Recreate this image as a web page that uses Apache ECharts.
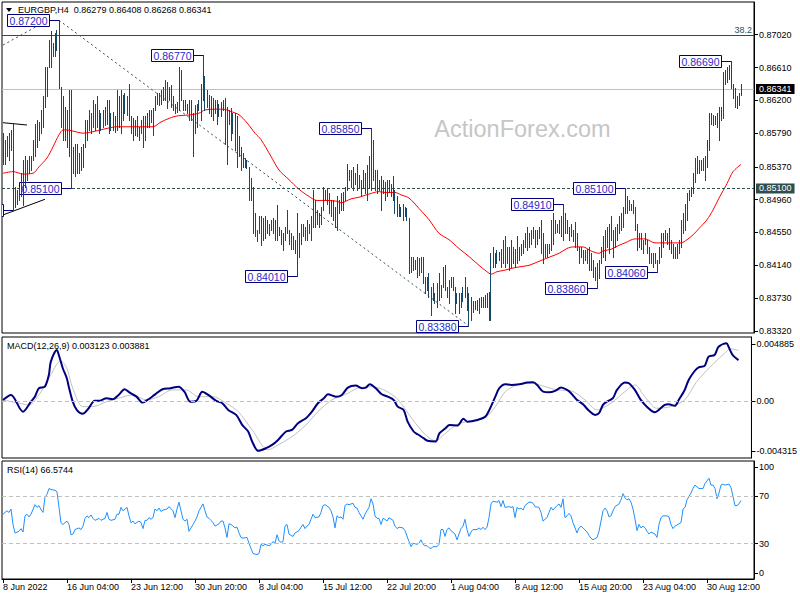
<!DOCTYPE html>
<html><head><meta charset="utf-8">
<script src="https://cdn.jsdelivr.net/npm/echarts@6/dist/echarts.min.js"></script>
<style>html,body{margin:0;padding:0;background:#fff}#c{width:800px;height:600px}</style>
</head><body><div id="c"></div>
<script>
const symbolTitle = 'EURGBP,H4';
const lastOHLC = [0.86279, 0.86408, 0.86268, 0.86341];
const timeLabels = ['8 Jun 2022','16 Jun 04:00','23 Jun 12:00','30 Jun 20:00','8 Jul 04:00','15 Jul 12:00','22 Jul 20:00','1 Aug 04:00','8 Aug 12:00','15 Aug 20:00','23 Aug 04:00','30 Aug 12:00'];
const barsPerLabel = 32;
const emptyBarsRight = 6;
const priceTicks = [0.87020,0.86610,0.86200,0.85790,0.85370,0.84960,0.84550,0.84140,0.83730,0.83320];
const priceRange = [0.83295, 0.87428];
const macdRange = [-0.004315, 0.004885];
const macdLast = [0.003123, 0.003881];
const rsiLast = 66.5744;
const rsiLevels = [70, 30];
const fibLevel = 0.87010, fibText = '38.2';
const currentPrice = 0.86341;
const keyLevel = 0.85100;

const barHigh = [
0.8579,0.8570,0.8575,0.8579,0.8583,0.8591,0.8512,0.8508,0.8512,0.8529,
0.8546,0.8550,0.8546,0.8550,0.8550,0.8570,0.8591,0.8595,0.8593,0.8608,
0.8625,0.8662,0.8662,0.8695,0.8706,0.8691,0.8704,0.8708,0.8720,0.8637,
0.8625,0.8612,0.8608,0.8633,0.8633,0.8562,0.8566,0.8566,0.8554,0.8562,
0.8566,0.8595,0.8595,0.8608,0.8604,0.8620,0.8616,0.8625,0.8608,0.8604,
0.8608,0.8612,0.8620,0.8620,0.8604,0.8606,0.8600,0.8633,0.8625,0.8633,
0.8627,0.8629,0.8625,0.8641,0.8600,0.8598,0.8595,0.8600,0.8587,0.8595,
0.8600,0.8600,0.8604,0.8608,0.8608,0.8610,0.8625,0.8629,0.8629,0.8633,
0.8637,0.8645,0.8643,0.8637,0.8639,0.8625,0.8616,0.8618,0.8662,0.8658,
0.8620,0.8620,0.8616,0.8620,0.8620,0.8604,0.8614,0.8616,0.8620,0.8641,
0.8677,0.8650,0.8633,0.8627,0.8625,0.8623,0.8620,0.8620,0.8616,0.8618,
0.8620,0.8623,0.8612,0.8608,0.8610,0.8604,0.8604,0.8600,0.8575,0.8562,
0.8554,0.8548,0.8546,0.8537,0.8523,0.8512,0.8479,0.8458,0.8475,0.8475,
0.8473,0.8475,0.8471,0.8466,0.8471,0.8473,0.8471,0.8489,0.8462,0.8458,
0.8454,0.8462,0.8483,0.8458,0.8454,0.8450,0.8446,0.8479,0.8454,0.8466,
0.8466,0.8462,0.8471,0.8466,0.8475,0.8508,0.8496,0.8483,0.8479,0.8487,
0.8512,0.8508,0.8510,0.8504,0.8496,0.8496,0.8487,0.8500,0.8496,0.8504,
0.8506,0.8512,0.8541,0.8533,0.8533,0.8537,0.8529,0.8541,0.8527,0.8521,
0.8533,0.8529,0.8539,0.8550,0.8585,0.8570,0.8533,0.8533,0.8521,0.8525,
0.8521,0.8518,0.8521,0.8521,0.8516,0.8525,0.8508,0.8500,0.8491,0.8487,
0.8491,0.8487,0.8485,0.8473,0.8425,0.8425,0.8421,0.8425,0.8423,0.8425,
0.8425,0.8400,0.8400,0.8404,0.8387,0.8392,0.8379,0.8392,0.8404,0.8389,
0.8412,0.8414,0.8387,0.8396,0.8400,0.8400,0.8387,0.8379,0.8379,0.8379,
0.8387,0.8400,0.8387,0.8379,0.8375,0.8369,0.8369,0.8371,0.8373,0.8375,
0.8375,0.8377,0.8379,0.8381,0.8429,0.8437,0.8429,0.8433,0.8431,0.8435,
0.8446,0.8450,0.8437,0.8437,0.8446,0.8437,0.8435,0.8450,0.8437,0.8441,
0.8446,0.8454,0.8462,0.8454,0.8458,0.8462,0.8458,0.8458,0.8462,0.8471,
0.8454,0.8441,0.8441,0.8441,0.8471,0.8479,0.8471,0.8466,0.8471,0.8475,
0.8491,0.8479,0.8471,0.8462,0.8466,0.8458,0.8468,0.8454,0.8437,0.8437,
0.8433,0.8433,0.8435,0.8437,0.8429,0.8421,0.8412,0.8417,0.8421,0.8437,
0.8450,0.8458,0.8462,0.8466,0.8475,0.8458,0.8462,0.8466,0.8475,0.8479,
0.8487,0.8510,0.8500,0.8496,0.8491,0.8496,0.8487,0.8466,0.8454,0.8454,
0.8446,0.8454,0.8446,0.8437,0.8429,0.8429,0.8429,0.8421,0.8437,0.8454,
0.8454,0.8458,0.8454,0.8460,0.8446,0.8441,0.8437,0.8441,0.8446,0.8471,
0.8479,0.8491,0.8504,0.8508,0.8512,0.8529,0.8548,0.8550,0.8546,0.8546,
0.8548,0.8550,0.8570,0.8604,0.8604,0.8602,0.8600,0.8604,0.8612,0.8612,
0.8655,0.8658,0.8662,0.8664,0.8669,0.8641,0.8635,0.8625,0.8629,0.86408];
const barLow = [
0.8541,0.8541,0.8550,0.8546,0.8558,0.8483,0.8487,0.8491,0.8496,0.8500,
0.8489,0.8512,0.8521,0.8529,0.8533,0.8546,0.8550,0.8562,0.8570,0.8579,
0.8587,0.8612,0.8625,0.8662,0.8662,0.8675,0.8675,0.8683,0.8635,0.8587,
0.8570,0.8570,0.8562,0.8550,0.8510,0.8529,0.8525,0.8529,0.8529,0.8533,
0.8537,0.8562,0.8570,0.8583,0.8579,0.8587,0.8583,0.8587,0.8579,0.8583,
0.8587,0.8589,0.8591,0.8579,0.8583,0.8583,0.8581,0.8583,0.8587,0.8579,
0.8595,0.8604,0.8602,0.8595,0.8579,0.8570,0.8577,0.8575,0.8570,0.8579,
0.8562,0.8570,0.8587,0.8587,0.8593,0.8577,0.8608,0.8616,0.8614,0.8616,
0.8620,0.8620,0.8610,0.8620,0.8612,0.8608,0.8604,0.8606,0.8608,0.8620,
0.8608,0.8608,0.8604,0.8595,0.8595,0.8550,0.8579,0.8587,0.8608,0.8595,
0.8620,0.8608,0.8612,0.8604,0.8600,0.8595,0.8604,0.8591,0.8600,0.8600,
0.8608,0.8566,0.8541,0.8591,0.8570,0.8579,0.8558,0.8537,0.8550,0.8533,
0.8537,0.8537,0.8535,0.8496,0.8496,0.8454,0.8450,0.8444,0.8454,0.8439,
0.8446,0.8448,0.8454,0.8452,0.8458,0.8454,0.8446,0.8446,0.8452,0.8441,
0.8433,0.8446,0.8454,0.8441,0.8435,0.8435,0.8429,0.8401,0.8425,0.8441,
0.8450,0.8446,0.8446,0.8454,0.8446,0.8462,0.8462,0.8466,0.8462,0.8466,
0.8483,0.8496,0.8491,0.8479,0.8475,0.8471,0.8462,0.8458,0.8479,0.8483,
0.8483,0.8496,0.8508,0.8521,0.8512,0.8508,0.8516,0.8508,0.8512,0.8500,
0.8512,0.8504,0.8496,0.8512,0.8508,0.8521,0.8508,0.8504,0.8508,0.8483,
0.8504,0.8496,0.8500,0.8506,0.8500,0.8496,0.8479,0.8475,0.8475,0.8475,
0.8471,0.8475,0.8471,0.8404,0.8406,0.8408,0.8410,0.8400,0.8402,0.8406,
0.8392,0.8379,0.8383,0.8375,0.8352,0.8371,0.8367,0.8362,0.8371,0.8375,
0.8387,0.8383,0.8375,0.8367,0.8387,0.8383,0.8354,0.8367,0.8354,0.8362,
0.8369,0.8375,0.8358,0.8338,0.8346,0.8356,0.8360,0.8358,0.8354,0.8362,
0.8362,0.8362,0.8362,0.8346,0.8346,0.8412,0.8412,0.8417,0.8421,0.8412,
0.8417,0.8412,0.8417,0.8408,0.8412,0.8417,0.8412,0.8417,0.8421,0.8427,
0.8429,0.8437,0.8433,0.8437,0.8441,0.8448,0.8437,0.8441,0.8448,0.8429,
0.8417,0.8425,0.8425,0.8429,0.8433,0.8441,0.8454,0.8456,0.8454,0.8450,
0.8446,0.8454,0.8454,0.8446,0.8450,0.8444,0.8437,0.8433,0.8417,0.8425,
0.8417,0.8421,0.8417,0.8408,0.8408,0.8400,0.8396,0.8386,0.8398,0.8417,
0.8425,0.8421,0.8437,0.8429,0.8446,0.8425,0.8437,0.8446,0.8454,0.8458,
0.8462,0.8479,0.8479,0.8483,0.8483,0.8479,0.8458,0.8433,0.8437,0.8435,
0.8429,0.8441,0.8429,0.8417,0.8417,0.8412,0.8417,0.8406,0.8417,0.8425,
0.8437,0.8446,0.8441,0.8435,0.8429,0.8423,0.8423,0.8423,0.8429,0.8437,
0.8454,0.8458,0.8471,0.8496,0.8500,0.8504,0.8518,0.8529,0.8529,0.8533,
0.8533,0.8521,0.8537,0.8558,0.8591,0.8589,0.8591,0.8587,0.8570,0.8595,
0.8598,0.8641,0.8643,0.8647,0.8635,0.8623,0.8612,0.8611,0.8614,0.86268];

const maPoints = [[0,0.8529],[5,0.8531],[10,0.8528],[15,0.8529],[18,0.8537],[22,0.8548],[25,0.8562],[28,0.8577],[30,0.8583],[32,0.8583],[36,0.8581],[40,0.8579],[43,0.8580],[47,0.8582],[52,0.8585],[57,0.8587],[63,0.8587],[68,0.8587],[75,0.8587],[79,0.8593],[86,0.8600],[94,0.8602],[98,0.8604],[101,0.8608],[106,0.8609],[110,0.8609],[114,0.8606],[118,0.8602],[122,0.8592],[126,0.8579],[129,0.8571],[134,0.8550],[138,0.8533],[143,0.8521],[148,0.8509],[153,0.8500],[157,0.8495],[162,0.8495],[167,0.8494],[169,0.8492],[174,0.8497],[178,0.8499],[183,0.8503],[188,0.8506],[191,0.8505],[196,0.8505],[199,0.8502],[203,0.8498],[208,0.8485],[213,0.8471],[218,0.8454],[223,0.8446],[228,0.8435],[233,0.8425],[238,0.8414],[242,0.8406],[244,0.8403],[247,0.8406],[251,0.8408],[254,0.8410],[258,0.8412],[263,0.8414],[268,0.8419],[274,0.8425],[278,0.8429],[282,0.8435],[285,0.8437],[290,0.8437],[294,0.8432],[298,0.8429],[300,0.8432],[304,0.8434],[308,0.8439],[311,0.8442],[316,0.8447],[321,0.8447],[326,0.8442],[331,0.8442],[336,0.8442],[339,0.8442],[342,0.8446],[345,0.8452],[348,0.8460],[352,0.8471],[355,0.8483],[358,0.8498],[362,0.8516],[365,0.8531],[369,0.8540]];

const macdMain = [[0,0.0001],[4,0.00048],[10,-0.00079],[14,-0.00003],[16,0.00035],[18,0.00099],[21,0.00111],[23,0.002],[24,0.00301],[27,0.0039],[28,0.00352],[30,0.00251],[32,0.00175],[33,0.00111],[35,-0.00003],[37,-0.00066],[40,-0.00096],[43,-0.00053],[46,0.00003],[48,0.00003],[52,0.00023],[55,0.00015],[58,0.00048],[61,0.00091],[64,0.00061],[67,0.00035],[70,-0.0001],[73,0.00015],[76,0.00048],[80,0.00091],[84,0.00099],[88,0.00111],[91,0.00073],[94,-0.00003],[97,0.00003],[100,0.00073],[103,0.00048],[107,0.00003],[110,-0.00015],[113,-0.00066],[117,-0.00104],[120,-0.0018],[123,-0.0023],[125,-0.00306],[128,-0.00377],[132,-0.00357],[135,-0.00332],[138,-0.00294],[142,-0.0023],[145,-0.00218],[148,-0.00167],[152,-0.00129],[155,-0.00079],[158,-0.00015],[161,0.00023],[163,0.00053],[167,0.00035],[170,0.00048],[173,0.00104],[177,0.00119],[180,0.00099],[182,0.00104],[184,0.00129],[187,0.00099],[190,0.00053],[193,0.00035],[196,0.0001],[198,-0.00041],[201,-0.00066],[203,-0.00155],[206,-0.0023],[208,-0.00251],[211,-0.00281],[213,-0.00301],[217,-0.00306],[219,-0.00243],[222,-0.00205],[224,-0.0018],[228,-0.00185],[231,-0.00134],[233,-0.00155],[238,-0.00142],[242,-0.00117],[244,-0.00066],[247,0.00035],[249,0.00099],[252,0.00129],[255,0.00124],[259,0.00129],[263,0.00142],[266,0.00144],[268,0.00124],[271,0.00073],[274,0.00068],[277,0.00079],[280,0.00104],[283,0.00086],[285,0.00061],[288,0.0001],[291,-0.00023],[294,-0.00073],[297,-0.00104],[299,-0.00091],[301,-0.00028],[303,-0.00003],[306,0.00023],[308,0.00086],[312,0.00142],[314,0.00137],[317,0.00086],[320,0.0001],[323,-0.00041],[327,-0.00084],[329,-0.00066],[332,-0.00028],[334,-0.00023],[337,-0.00035],[339,0.0001],[342,0.00086],[344,0.00162],[347,0.0023],[349,0.00258],[352,0.00269],[354,0.00339],[357,0.00352],[359,0.00415],[363,0.00441],[364,0.00415],[366,0.00352],[369,0.003123]];

const macdSignal = [[0,0.0001],[8,-0.00015],[13,-0.00028],[18,0.00048],[23,0.00175],[29,0.00306],[32,0.00251],[35,0.00099],[40,-0.00041],[45,-0.00041],[52,-0.00003],[58,0.00023],[65,0.00048],[72,0.0001],[78,0.00035],[85,0.00086],[92,0.00086],[98,0.00035],[105,0.00035],[112,-0.00015],[118,-0.00079],[125,-0.00218],[133,-0.0037],[138,-0.00332],[145,-0.00269],[152,-0.0018],[158,-0.00079],[165,0.0001],[172,0.00053],[178,0.00099],[185,0.00111],[192,0.00079],[198,0.00015],[205,-0.00129],[212,-0.00256],[217,-0.00301],[222,-0.00243],[228,-0.00175],[235,-0.00149],[242,-0.00124],[247,-0.00041],[252,0.00073],[258,0.00124],[265,0.00137],[272,0.00111],[278,0.00086],[285,0.00079],[292,0.0001],[298,-0.00066],[305,-0.00015],[312,0.00073],[317,0.00124],[322,0.00035],[328,-0.00053],[335,-0.00041],[342,0.0001],[348,0.00149],[355,0.00263],[362,0.00365],[365,0.00398],[369,0.003881]];

const rsiPoints = [[0,54.9],[1,56.4],[2,57.8],[3,56.4],[4,59.3],[5,46.2],[6,39.0],[8,40.4],[9,42.7],[10,39.8],[11,53.5],[12,54.9],[13,52.6],[14,54.9],[16,63.0],[17,60.7],[18,62.2],[19,58.7],[20,56.4],[21,69.4],[22,71.7],[23,76.7],[24,75.8],[26,75.2],[27,73.8],[28,60.7],[29,47.7],[30,46.2],[32,49.1],[33,46.2],[34,37.5],[35,38.1],[36,41.9],[38,43.3],[39,41.9],[40,44.8],[41,51.4],[42,53.5],[43,52.0],[44,54.3],[45,51.4],[46,49.7],[48,51.4],[49,49.7],[50,50.6],[51,51.4],[52,56.4],[53,50.6],[54,49.7],[56,50.6],[57,54.9],[58,54.9],[59,60.7],[60,57.8],[62,60.7],[63,53.5],[64,47.7],[65,49.1],[66,46.8],[68,49.1],[69,47.7],[70,42.7],[71,49.7],[72,49.7],[73,52.0],[74,50.6],[75,52.0],[76,59.3],[77,57.8],[78,60.1],[79,57.2],[80,58.4],[82,59.3],[83,61.3],[85,57.8],[86,52.0],[87,59.3],[88,65.1],[89,57.8],[90,50.6],[91,49.1],[92,50.6],[93,40.4],[95,46.2],[96,49.1],[97,52.6],[98,57.8],[100,63.6],[101,57.8],[102,52.6],[103,51.4],[104,49.7],[105,47.7],[106,44.8],[108,46.8],[109,49.1],[110,49.1],[111,43.3],[112,35.2],[113,46.8],[114,46.2],[115,44.8],[116,43.3],[117,43.9],[118,39.0],[119,35.2],[120,34.6],[122,35.2],[123,30.3],[124,25.9],[125,21.6],[127,20.7],[128,21.6],[129,29.4],[130,28.2],[131,29.4],[133,28.2],[134,29.4],[135,31.7],[136,30.3],[137,37.5],[138,32.3],[139,31.1],[140,31.7],[141,44.8],[142,46.2],[143,38.1],[144,36.9],[145,36.1],[146,39.0],[148,41.0],[149,43.9],[150,46.2],[151,42.7],[152,44.8],[153,46.2],[154,50.6],[155,54.9],[156,52.0],[158,52.6],[159,56.4],[160,62.2],[161,63.0],[163,60.7],[164,57.8],[165,52.6],[166,43.3],[167,53.5],[168,52.0],[169,52.6],[170,50.6],[171,62.2],[172,63.6],[173,63.0],[175,64.2],[176,60.7],[177,60.1],[178,56.4],[180,50.6],[181,54.9],[182,57.8],[183,60.7],[184,68.0],[185,63.6],[186,53.5],[187,51.4],[188,51.4],[189,46.2],[190,51.4],[191,50.6],[192,49.1],[193,52.0],[195,49.7],[196,44.8],[197,42.7],[198,43.9],[200,43.3],[201,41.0],[203,31.7],[204,27.4],[205,30.3],[207,29.4],[208,30.3],[209,33.2],[210,29.4],[211,28.2],[212,28.2],[213,26.5],[214,25.9],[215,27.4],[217,27.4],[218,29.4],[219,41.9],[220,41.9],[221,36.1],[222,41.9],[223,43.3],[224,41.0],[226,38.1],[227,33.2],[228,38.1],[229,42.7],[230,44.8],[231,50.6],[232,41.9],[233,36.1],[234,39.8],[235,41.9],[237,41.9],[238,43.3],[239,41.9],[240,43.9],[241,41.9],[242,43.9],[243,52.0],[244,63.6],[245,65.9],[247,65.1],[248,66.5],[249,61.3],[250,66.5],[251,60.7],[253,61.3],[254,60.7],[255,61.3],[256,52.0],[257,60.7],[258,59.3],[259,60.1],[260,58.4],[261,62.2],[263,65.1],[264,65.1],[265,64.2],[266,61.3],[268,60.7],[269,56.4],[270,49.1],[271,50.6],[272,52.0],[273,56.4],[274,60.7],[275,58.4],[277,62.2],[278,63.6],[279,60.7],[280,68.0],[281,52.0],[282,53.5],[283,55.5],[284,53.5],[285,47.7],[287,39.0],[288,43.3],[289,44.8],[290,43.3],[292,39.8],[293,36.9],[294,34.6],[295,33.2],[297,35.2],[298,40.4],[299,49.1],[300,57.8],[301,60.1],[302,57.8],[303,52.6],[304,53.5],[305,57.8],[306,61.3],[308,63.6],[309,67.1],[310,72.3],[311,68.8],[312,67.1],[313,68.0],[314,65.1],[315,59.3],[316,50.6],[317,41.0],[318,46.2],[319,43.3],[320,44.8],[321,43.3],[322,40.4],[323,38.1],[324,39.8],[325,38.9],[326,38.1],[327,35.2],[328,46.2],[329,52.0],[330,53.5],[332,53.5],[333,52.6],[334,46.2],[335,42.7],[336,44.8],[338,46.8],[339,47.7],[340,59.3],[341,60.7],[342,67.1],[343,70.0],[344,72.9],[345,76.7],[346,79.6],[347,78.1],[348,76.7],[349,76.7],[350,76.7],[351,81.0],[353,85.4],[354,79.6],[355,79.6],[356,76.7],[357,68.0],[358,72.9],[359,79.6],[360,80.4],[361,79.6],[363,80.4],[364,77.5],[365,70.0],[366,62.2],[367,62.2],[368,63.6],[369,66.5744]];

// swing labels: [bar index, price]
const swingLabels = [[5,0.84830],[28,0.87200],[34,0.85100],[100,0.86770],[147,0.84010],[184,0.85850],[233,0.83380],[280,0.84910],[297,0.83860],[311,0.85100],[327,0.84060],[364,0.86690]];
// drawn lines: [[index, price],[index, price]]
const trendLines = [[[28,0.87200],[233,0.83380]],[[0,0.86890],[22,0.87195]]];
const channelLines = [[[0,0.85921],[12,0.85892]],[[0,0.84769],[21,0.84965]]];

const FONT = '"Liberation Sans", Arial, sans-serif';
const BAR = '#164766';
const chart = echarts.init(document.getElementById('c'), null, {renderer:'svg', width:800, height:600});
const nCat = barHigh.length + emptyBarsRight;
const cats = Array.from({length:nCat}, (_, i) => String(i));
const isLabelIdx = (i) => i % barsPerLabel === 0 && i / barsPerLabel < timeLabels.length;

const grids = [
  {left:2, top:2, width:752, height:331},
  {left:2, top:337, width:752, height:121},
  {left:2, top:461, width:752, height:118}
].map(g => Object.assign(g, {show:true, borderColor:'#000', borderWidth:1, backgroundColor:'rgba(0,0,0,0)'}));

const xAxes = [0,1,2].map(k => ({
  type:'category', gridIndex:k, data:cats, boundaryGap:true,
  axisLine:{show:k===2, lineStyle:{color:'#000'}},
  axisTick:{show:k===2, interval:isLabelIdx, alignWithLabel:true, length:4, lineStyle:{color:'#000'}},
  axisLabel:{show:k===2, interval:isLabelIdx, formatter:(v, i) => timeLabels[i / barsPerLabel] || '',
    align:'left', margin:3, fontSize:9, fontFamily:FONT, color:'#000'},
  splitLine:{show:false}
}));

const lblBase = {fontSize:9, fontFamily:FONT, color:'#000', margin:5};
const macdPad = (macdRange[1]-macdRange[0]) * 7 / 121;
const macdTickPos = [macdRange[1]-macdPad, 0, macdRange[0]+macdPad];
const rsiPad = 100 * 6 / 118;
const rsiTickPos = [100 - rsiPad, 70, 30, rsiPad];

const yAxes = [
  {type:'value', gridIndex:0, position:'right', min:priceRange[0], max:priceRange[1],
   axisLine:{show:true, onZero:false, lineStyle:{color:'#000'}},
   axisTick:{show:true, customValues:priceTicks, length:4, lineStyle:{color:'#000'}},
   axisLabel:Object.assign({customValues:priceTicks, formatter:v => v.toFixed(5)}, lblBase),
   splitLine:{show:false}},
  {type:'value', gridIndex:1, position:'right', min:macdRange[0], max:macdRange[1],
   axisLine:{show:true, onZero:false, lineStyle:{color:'#000'}},
   axisTick:{show:true, customValues:macdTickPos, length:4, lineStyle:{color:'#000'}},
   axisLabel:Object.assign({customValues:macdTickPos, formatter:v => v > 0.0001 ? macdRange[1].toFixed(6) : (v < -0.0001 ? macdRange[0].toFixed(6) : '0.00')}, lblBase),
   splitLine:{show:false}},
  {type:'value', gridIndex:2, position:'right', min:0, max:100,
   axisLine:{show:true, onZero:false, lineStyle:{color:'#000'}},
   axisTick:{show:true, customValues:rsiTickPos, length:4, lineStyle:{color:'#000'}},
   axisLabel:Object.assign({customValues:rsiTickPos, formatter:v => v > 90 ? '100' : (v < 10 ? '0' : String(Math.round(v)))}, lblBase),
   splitLine:{show:false}}
];

const segLine = (seg, style) => [{coord:seg[0], lineStyle:style}, {coord:seg[1]}];

const series = [
  {type:'custom', name:'bars', xAxisIndex:0, yAxisIndex:0, z:6, silent:true,
   data: barHigh.map((h, i) => [i, h, barLow[i]]),
   encode:{x:0, y:[1,2]},
   renderItem:(params, api) => {
     const i = api.value(0);
     const hi = api.coord([i, api.value(1)]);
     const lo = api.coord([i, api.value(2)]);
     const x = Math.floor(hi[0]) + 0.5;
     return {type:'line', shape:{x1:x, y1:Math.round(hi[1]), x2:x, y2:Math.round(lo[1]) + 1},
             style:{stroke:BAR, lineWidth:1}};
   }},
  {type:'line', name:'MA', xAxisIndex:0, yAxisIndex:0, z:4, data:maPoints, smooth:0.3,
   showSymbol:false, symbol:'none', lineStyle:{color:'#ff0000', width:1}, silent:true,
   markLine:{symbol:['none','none'], silent:true, animation:false, precision:6,
     data:[
       {yAxis:fibLevel, lineStyle:{color:'#2f4f4f', type:'solid', width:1},
        label:{show:true, position:'insideEndTop', formatter:fibText, color:'#2f4f4f', fontSize:9, fontFamily:FONT, distance:[2,1]}},
       {yAxis:currentPrice, lineStyle:{color:'#c0c0c0', type:'solid', width:1},
        label:{show:true, position:'end', formatter:currentPrice.toFixed(5), backgroundColor:'#000', color:'#fff',
               padding:[1,3,0,3], fontSize:9, fontFamily:FONT, distance:2}},
       {yAxis:keyLevel, lineStyle:{color:'#2f4f4f', type:[3,2], width:1},
        label:{show:true, position:'end', formatter:keyLevel.toFixed(5), backgroundColor:'#2f4f4f', color:'#fff',
               padding:[1,3,0,3], fontSize:9, fontFamily:FONT, distance:2}},
       segLine(trendLines[0], {color:'#2f4f4f', type:[2,3], width:1}),
       segLine(trendLines[1], {color:'#2f4f4f', type:[2,3], width:1}),
       segLine(channelLines[0], {color:'#000', type:'solid', width:1}),
       segLine(channelLines[1], {color:'#000', type:'solid', width:1})
     ]
   }},
  {type:'custom', name:'swings', xAxisIndex:0, yAxisIndex:0, z:5, silent:true,
   data: swingLabels.map(s => [s[0], s[1]]),
   encode:{x:0, y:1},
   renderItem:(params, api) => {
     const p = api.coord([api.value(0), api.value(1)]);
     const bx = Math.floor(p[0]) + 0.5;
     const y = Math.round(p[1]) + 0.5;
     const right = bx - 10, w = 42, h = 12;
     const cs = params.coordSys;
     const children = [
        {type:'line', shape:{x1:right, y1:y, x2:bx, y2:y}, style:{stroke:'#000080', lineWidth:1}},
        {type:'rect', shape:{x:right - w, y:y - h/2, width:w, height:h}, style:{fill:'#fff', stroke:'#000080', lineWidth:1}}
     ];
     if (right - w >= cs.x) {
       children.push({type:'text', x:right - w/2, y:y + 0.5, style:{text:api.value(1).toFixed(5), align:'center', verticalAlign:'middle',
          fill:'#2a2ac8', font:'10.5px ' + FONT}});
     }
     return {type:'group',
       clipPath:{type:'rect', shape:{x:cs.x, y:cs.y, width:cs.width, height:cs.height}},
       children:children};
   }},
  {type:'line', name:'Signal', xAxisIndex:1, yAxisIndex:1, data:macdSignal, smooth:0.3, symbol:'none', showSymbol:false,
   lineStyle:{color:'#c0c0c0', width:1}, silent:true, z:2,
   markLine:{symbol:['none','none'], silent:true, animation:false, precision:6, label:{show:false},
     data:[{yAxis:0, lineStyle:{color:'#c0c0c0', type:[4,3], width:1}}]}},
  {type:'line', name:'MACD', xAxisIndex:1, yAxisIndex:1, data:macdMain, smooth:0.3, symbol:'none', showSymbol:false,
   lineStyle:{color:'#000080', width:2}, silent:true, z:3},
  {type:'line', name:'RSI', xAxisIndex:2, yAxisIndex:2, data:rsiPoints, symbol:'none', showSymbol:false,
   lineStyle:{color:'#1e90ff', width:1}, silent:true, z:3,
   markLine:{symbol:['none','none'], silent:true, animation:false, precision:4, label:{show:false},
     data:rsiLevels.map(v => ({yAxis:v, lineStyle:{color:'#c0c0c0', type:[4,3], width:1}}))}}
];

const txt = (x, y, text, size, color, extra) => Object.assign({type:'text', x:x, y:y, silent:true,
  style:{text:text, fill:color, font:size + 'px ' + FONT, align:'left', verticalAlign:'middle', textAlign:'left', textVerticalAlign:'middle'}}, extra || {});

const graphic = [
  {type:'polygon', shape:{points:[[6,8],[12,8],[9,12]]}, style:{fill:'#000'}, silent:true},
  txt(18, 10, symbolTitle + '  ' + lastOHLC.map(v => v.toFixed(5)).join(' '), 9, '#000'),
  txt(7, 345.5, 'MACD(12,26,9) ' + macdLast.map(v => v.toFixed(6)).join(' '), 9, '#000'),
  txt(7, 469.5, 'RSI(14) ' + rsiLast.toFixed(4), 9, '#000'),
  {type:'text', x:522.5, y:128.5, silent:true, z:-1,
   style:{text:'ActionForex.com', fill:'#c6c6c6', font:'23.5px ' + FONT, align:'center', verticalAlign:'middle', textAlign:'center', textVerticalAlign:'middle'}}
];

chart.setOption({
  animation:false,
  backgroundColor:'#fff',
  grid:grids, xAxis:xAxes, yAxis:yAxes, series:series, graphic:graphic
});
</script>
</body></html>
